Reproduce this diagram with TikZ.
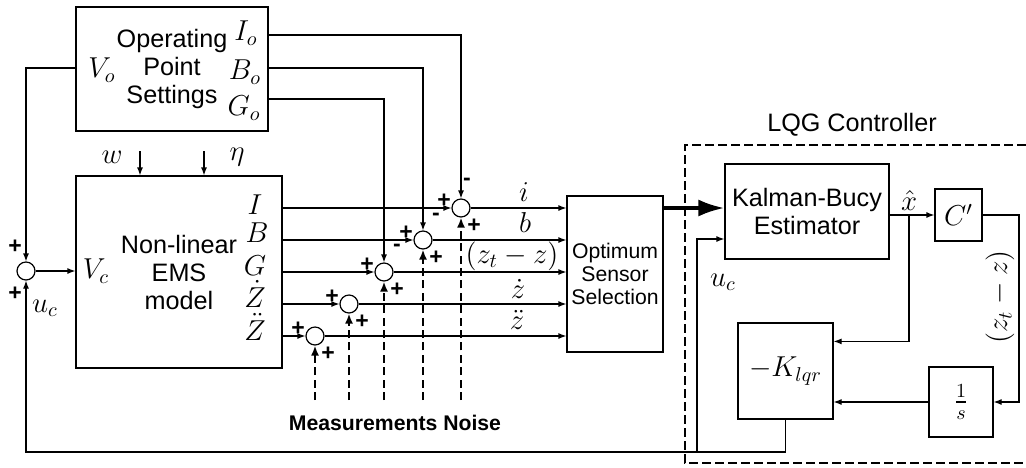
\documentclass[tikz,border=0pt]{standalone}
\usepackage{amsmath}
\usepackage[no-math]{fontspec}
\setmainfont{Liberation Sans}
\usetikzlibrary{positioning,arrows.meta,calc}

\begin{document}
\begin{tikzpicture}[x=0.5pt,y=-0.5pt,line width=0.6pt,>={Latex[length=4pt,width=3pt]},
  font=\fontsize{12.6}{14}\selectfont,
  blk/.style={draw,align=center,inner sep=0pt},
  sum/.style={draw,circle,minimum size=9pt,inner sep=0pt},
  mth/.style={font=\fontsize{14}{16}\selectfont,inner sep=0pt},
  lbl/.style={mth,text height=7pt,text depth=1pt},
  sgn/.style={font=\fontsize{11.5}{11.5}\selectfont\bfseries,inner sep=0pt},
  noise/.style={dash pattern=on 4pt off 2.2pt,line width=0.9pt,-{Latex[length=5pt,width=4pt]}},
  thickarr/.style={line width=1.8pt,-{Latex[length=13pt,width=8.5pt]}}]
\useasboundingbox (0,0) rectangle (1026,467);
\node[blk,minimum width=96pt,minimum height=62pt] (ops) at (172,69) {Operating\\Point\\Settings};
\node[blk,minimum width=103pt,minimum height=96pt] (ems) at (179,272) {Non-linear\\EMS\\model};
\node[blk,minimum width=48pt,minimum height=78pt,font=\fontsize{10.6}{11.5}\selectfont] (opt) at (615,274) {Optimum\\Sensor\\Selection};
\node[blk,minimum width=82pt,minimum height=47.5pt] (kal) at (807,211.5) {Kalman-Bucy\\Estimator};
\node[blk,minimum width=23.5pt,minimum height=26pt,mth] (cp) at (958.5,215) {$C'$};
\node[blk,minimum width=32pt,minimum height=35pt,mth] (os) at (961,402) {$\frac{1}{s}$};
\node[blk,minimum width=47.5pt,minimum height=48pt,mth] (kl) at (785.5,371) {$-K_{lqr}$};
\node[sum] (s0) at (26,271) {};
\node[mth] (lIo) at (246,33) {$I_o$};
\node[mth] (lBo) at (245,72) {$B_o$};
\node[mth] (lGo) at (244,108) {$G_o$};
\node[mth] (lVo) at (102,70) {$V_o$};
\node[mth] (lVc) at (96,271) {$V_c$};
\node[lbl] (lI) at (255,208) {$I$};
\node[lbl] (lB) at (257,236) {$B$};
\node[lbl] (lG) at (255,269) {$G$};
\node[lbl] (lZd) at (255,301) {$\dot{Z}$};
\node[lbl] (lZdd) at (255,334) {$\ddot{Z}$};
\node[mth] (lw) at (112,157) {$w$};
\node[mth] (leta) at (237,157) {$\eta$};
\node[mth] (luc) at (45,308) {$u_c$};
\node[mth] (luc2) at (723,282) {$u_c$};
\node[mth] (lxh) at (909,200) {$\hat{x}$};
\node[mth,rotate=90] (lzt) at (1000,297) {$(z_t-z)$};
\node (lqg) at (852,125) {LQG Controller};
\node[font=\fontsize{10.6}{12}\selectfont\bfseries] (mn) at (395,423) {Measurements Noise};
\node[sgn] (p1) at (15,247) {+};
\node[sgn] (p2) at (15,294) {+};
\foreach \t/\n/\x/\y in {{$i$}/i/524/195,{$b$}/b/525/226,{$(z_t-z)$}/g/512/257,{$\dot{z}$}/zd/518/292,{$\ddot{z}$}/zdd/517/323}
  \node[lbl] (r\n) at (\x,\y) {\t};
\foreach \n/\x/\y in {i/461/208,b/423/240,g/384/272,zd/349/304,zdd/315/336}{
  \node[sum] (s\n) at (\x,\y) {};
  \coordinate (n\n) at (\x,400);
  \draw[->] (ems.east |- s\n) -- (s\n.west);
  \draw[->] (s\n.east) -- (opt.west |- s\n);
  \draw[noise] (n\n) -- (s\n.south);
  \node[sgn] (pa\n) at (\x-17,\y-7) {+};
  \node[sgn] (pb\n) at (\x+13,\y+18) {+};
}
\foreach \n/\y/\dx/\dy in {i/35/6/-26,b/68/13/-23,g/99/13/-24}{
  \coordinate (o\n) at (268,\y);
  \draw[->] (o\n) -| (s\n.north);
  \node[sgn] (m\n) at ([shift={(\dx,\dy)}]s\n) {-};
}
\coordinate (ov) at (76,68);
\coordinate (fb) at (697,452);
\coordinate (xb) at (909,215);
\coordinate (cr) at (1019,215);
\foreach \x/\n in {140/w,204/eta}
  \draw[->] (\x,151) coordinate (d\n) -- (ems.north -| d\n);
\draw[->] (ov) -| (s0.north);
\draw[->] (s0.east) -- (ems.west |- s0);
\draw[thickarr] (opt.east |- si) -- (kal.west |- si);
\draw[->] (kal.east |- cp) -- (cp.west);
\draw[->] (xb) |- ([yshift=-9.5pt]kl.north east);
\draw[->] (cp.east) -- (cr) |- (os.east);
\draw[->] (os.west) -- (kl.east |- os);
\draw[->] (kl.south) -- (kl.south |- fb) -| (s0.south);
\draw[->] (fb) |- ([yshift=-13.75pt]kal.west);
\draw[dash pattern=on 4.5pt off 2pt,line width=1pt] (1026,145) -- (685,145) -- (685,463) -- (1026,463);
\end{tikzpicture}
\end{document}
